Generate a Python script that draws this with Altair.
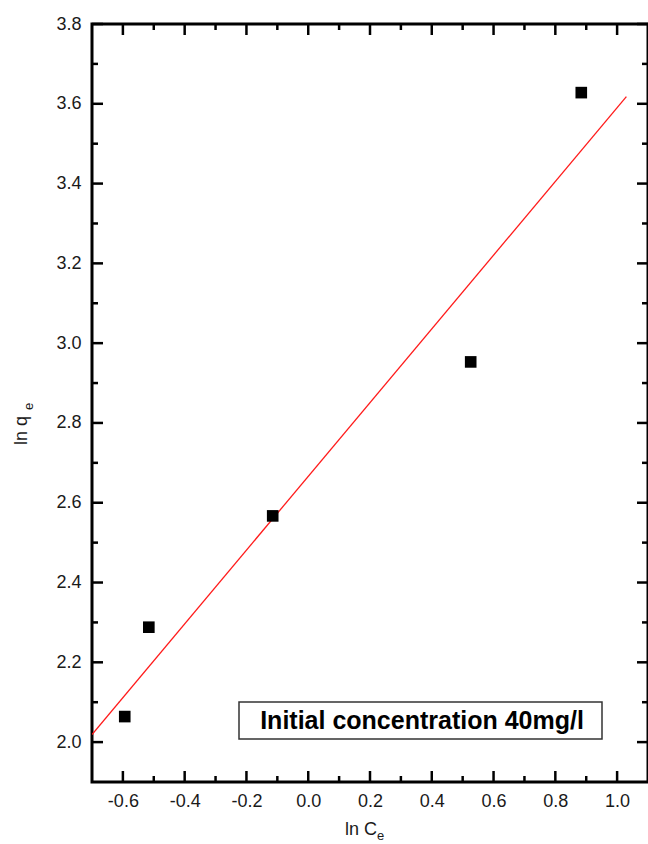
import altair as alt
import pandas as pd

# data
ln_ce = [-0.594, -0.516, -0.115, 0.526, 0.884]
ln_qe = [2.064, 2.288, 2.567, 2.953, 3.628]
fit_x = [-0.70, 1.03]
fit_y = [2.019, 3.618]
x_major = [-0.6, -0.4, -0.2, 0.0, 0.2, 0.4, 0.6, 0.8, 1.0]
x_minor = [-0.5, -0.3, -0.1, 0.1, 0.3, 0.5, 0.7, 0.9]
y_major = [2.0, 2.2, 2.4, 2.6, 2.8, 3.0, 3.2, 3.4, 3.6, 3.8]
y_minor = [2.1, 2.3, 2.5, 2.7, 2.9, 3.1, 3.3, 3.5, 3.7]
note = "Initial concentration 40mg/l"

W, H = 556, 758
FONT = "Liberation Sans"
XD = [-0.7, 1.1]
YD = [1.9, 3.8]

xs = alt.Scale(domain=XD, nice=False, zero=False)
ys = alt.Scale(domain=YD, nice=False, zero=False)

pts = pd.DataFrame({"x": ln_ce, "y": ln_qe})
fit = pd.DataFrame({"x": fit_x, "y": fit_y})

lab = "replace(format(datum.value, '.1f'), '\u2212', '-')"

base_axes = alt.Chart(pts).mark_point(opacity=0).encode(
    x=alt.X("x:Q", scale=xs, axis=alt.Axis(values=x_major, labelExpr=lab, title=None, grid=False,
                                           ticks=False, domain=False, labelPadding=10,
                                           labelFont=FONT, labelFontSize=18, labelColor="#1a1a1a")),
    y=alt.Y("y:Q", scale=ys, axis=alt.Axis(values=y_major, labelExpr=lab, title=None, grid=False,
                                           ticks=False, domain=False, labelPadding=11,
                                           labelFont=FONT, labelFontSize=18, labelColor="#1a1a1a")),
)

line = alt.Chart(fit).mark_line(color="#ff1a1a", strokeWidth=1.3, clip=True).encode(
    x=alt.X("x:Q", scale=xs), y=alt.Y("y:Q", scale=ys))

points = alt.Chart(pts).mark_square(size=135, color="black", opacity=1).encode(
    x=alt.X("x:Q", scale=xs), y=alt.Y("y:Q", scale=ys))

def xticks(vals, length):
    d = pd.DataFrame({"v": vals})
    b = alt.Chart(d).mark_rule(color="black", strokeWidth=2.5)
    bottom = b.encode(x=alt.X("v:Q", scale=xs), y=alt.value(H), y2=alt.value(H - length))
    top = b.encode(x=alt.X("v:Q", scale=xs), y=alt.value(0), y2=alt.value(length))
    return [bottom, top]

def yticks(vals, length):
    d = pd.DataFrame({"v": vals})
    b = alt.Chart(d).mark_rule(color="black", strokeWidth=2.5)
    left = b.encode(y=alt.Y("v:Q", scale=ys), x=alt.value(0), x2=alt.value(length))
    right = b.encode(y=alt.Y("v:Q", scale=ys), x=alt.value(W), x2=alt.value(W - length))
    return [left, right]

ticks = xticks(x_major, 11) + xticks(x_minor, 6) + yticks(y_major, 11) + yticks(y_minor, 6)

box = alt.Chart(pd.DataFrame({"t": [note]})).mark_rect(
    fill="white", stroke="#333333", strokeWidth=1.5).encode(
    x=alt.value(147), x2=alt.value(510), y=alt.value(678), y2=alt.value(715))
box_text = alt.Chart(pd.DataFrame({"t": [note]})).mark_text(
    font=FONT, fontSize=25, fontWeight="bold", color="black", align="center", baseline="middle").encode(
    x=alt.value(330), y=alt.value(697), text="t:N")

def txt(s, x, y, size, angle=0):
    kw = dict(font=FONT, fontSize=size, color="#1a1a1a", align="left", baseline="alphabetic")
    if angle:
        kw["angle"] = angle
    return alt.Chart(pd.DataFrame({"t": [s]})).mark_text(**kw).encode(
        x=alt.value(x), y=alt.value(y), text="t:N")

titles = [
    txt("ln C", 253, 811, 18),
    txt("e", 285, 816, 13),
    txt("ln q", -65, 421, 18, 270),
    txt("e", -59, 386, 13, 270),
]

chart = alt.layer(base_axes, line, points, *ticks, box, box_text, *titles).properties(
    width=W, height=H,
    autosize=alt.AutoSizeParams(type="none"),
    padding={"left": 92, "top": 24, "right": 0, "bottom": 62},
    background="white",
).configure_view(stroke="black", strokeWidth=3)

chart.save("out.html", embed_options={"renderer": "svg", "actions": False})
